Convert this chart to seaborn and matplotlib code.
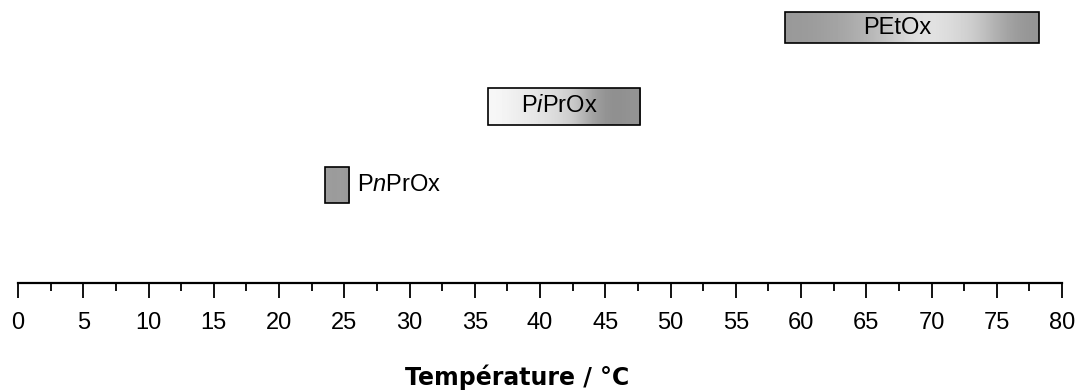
import numpy as np
import pandas as pd
import matplotlib
matplotlib.use("Agg")
import matplotlib.pyplot as plt
import seaborn as sns

# Data: cloud-point temperature ranges (°C)
polymers = ["PnPrOx", "PiPrOx", "PEtOx"]
labels = [r"P$\mathit{n}$PrOx", r"P$\mathit{i}$PrOx", "PEtOx"]
t_start = [23.5, 36.0, 58.8]
t_end = [25.4, 47.7, 78.2]
label_x = [26.0, 41.5, 67.4]
xticks = list(range(0, 81, 5))

df = pd.DataFrame({"polymer": polymers, "start": t_start, "end": t_end})
df["width"] = df["end"] - df["start"]
df["ypos"] = np.arange(1, len(df) + 1)

sns.set_theme(style="white")
plt.rcParams["font.family"] = ["Liberation Sans", "DejaVu Sans"]
plt.rcParams["mathtext.fontset"] = "custom"
plt.rcParams["mathtext.rm"] = "Liberation Sans"
plt.rcParams["mathtext.it"] = "Liberation Sans:italic"

fig = plt.figure(figsize=(10.85, 3.92), dpi=100)
ax = fig.add_axes([18 / 1085, 1 - 283 / 392, (1062 - 18) / 1085, 283 / 392])

# texture profiles (grey level along each bar, 1 = white)
profiles = [
    [0.62, 0.60, 0.62, 0.60],
    [0.97, 0.93, 0.90, 0.86, 0.80, 0.62, 0.55, 0.58],
    [0.60, 0.62, 0.66, 0.72, 0.82, 0.90, 0.86, 0.80, 0.66, 0.58],
]
heights = [0.46, 0.46, 0.40]

bars = ax.barh(df["ypos"], df["width"], left=df["start"], height=heights,
               color="none", edgecolor="black", linewidth=1.2, zorder=3)
for bar, prof in zip(bars, profiles):
    x0, y0 = bar.get_x(), bar.get_y()
    w, h = bar.get_width(), bar.get_height()
    img = np.array(prof)[None, :]
    im = ax.imshow(img, cmap="gray", vmin=0, vmax=1, aspect="auto",
                   extent=[x0, x0 + w, y0, y0 + h], interpolation="bicubic",
                   zorder=2)
    im.set_clip_path(bar)

for i, (lab, lx) in enumerate(zip(labels, label_x)):
    ha = "left" if i == 0 else "center"
    ax.text(lx, df["ypos"][i], lab, ha=ha, va="center", fontsize=17,
            color="black", zorder=4)

ax.set_xlim(0, 80)
ax.set_ylim(-0.24, 3.35)
ax.set_xticks(xticks)
ax.set_xticklabels([str(t) for t in xticks])
ax.set_xticks(np.arange(2.5, 80, 5), minor=True)
ax.set_yticks([])
for s in ["left", "right", "top"]:
    ax.spines[s].set_visible(False)
ax.spines["bottom"].set_linewidth(1.6)
ax.spines["bottom"].set_color("black")
ax.tick_params(axis="x", which="major", direction="out", length=11, width=1.3,
               pad=10, labelsize=17, colors="black", bottom=True)
ax.tick_params(axis="x", which="minor", direction="out", length=6, width=1.3,
               colors="black", bottom=True)
ax.patch.set_alpha(0)

fig.text(517 / 1085, 1 - 377 / 392, "Température / °C", ha="center", va="center",
         fontsize=17, fontweight="bold", color="black", family=["DejaVu Sans"])

fig.savefig("out.png", dpi=100)
